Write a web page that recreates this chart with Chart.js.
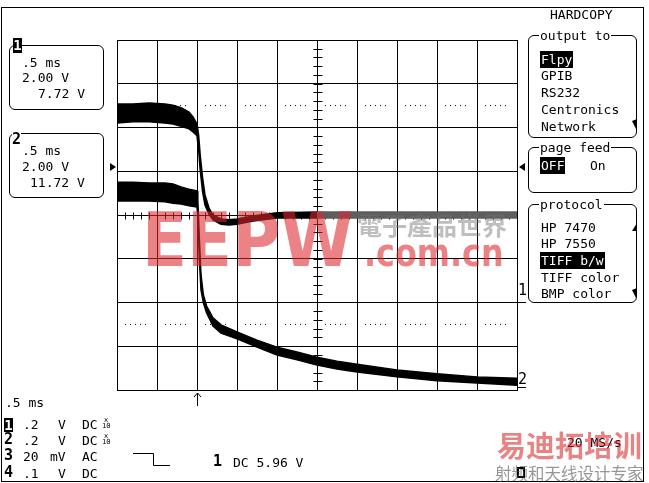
<!DOCTYPE html>
<html>
<head>
<meta charset="utf-8">
<script src="https://cdn.jsdelivr.net/npm/chart.js@4.4.1/dist/chart.umd.min.js"></script>
<style>
  body { margin: 0; background: #fff; }
  #scope { position: relative; width: 649px; height: 483px; overflow: hidden; background: #fff;
           font-family: "DejaVu Sans Mono", monospace; font-size: 13px; color: #000; }
  #scope canvas, #scope svg { position: absolute; left: 0; top: 0; }
  .t { position: absolute; line-height: 13px; white-space: pre; }
  .box { position: absolute; border: 1px solid #000; border-radius: 6px; box-sizing: border-box; }
  .lbl { background: #fff; padding: 0 1px; }
  .inv { background: #000; color: #fff; padding: 1px 1px; }
  .num { position: absolute; font-weight: bold; font-size: 15px; line-height: 15px; background: #fff; }
  .blk { position: absolute; background: #000; color: #fff; font-weight: bold; font-size: 14px;
         line-height: 15px; text-align: center; }
  .x10 { position: absolute; font-size: 7px; line-height: 6px; text-align: center; white-space: pre; }
  .wm { position: absolute; white-space: pre; pointer-events: none; }
</style>
</head>
<body>
<div id="scope">
  <canvas id="c" width="649" height="483"></canvas>

  <svg width="649" height="483">
    <rect x="1.5" y="7.5" width="642" height="474" fill="none" stroke="#000"/>
    <polyline points="133,453.5 153.5,453.5 153.5,465.5 170,465.5" fill="none" stroke="#000"/>
    <line x1="517" y1="302.5" x2="526" y2="302.5" stroke="#000"/>
    <line x1="517" y1="387.5" x2="526" y2="387.5" stroke="#000"/>
    <polygon points="632,121 637,119 636,129 634,125"/>
    <polygon points="637,223 637,231 632,231"/>
    <polygon points="632,290 637,288 636,298 634,294"/>
    <rect x="518" y="468" width="6" height="9" fill="none" stroke="#000" stroke-width="2"/>
  </svg>

  <!-- left channel boxes -->
  <div class="box" style="left:9px;top:45px;width:95px;height:65px"></div>
  <div class="blk" style="left:13px;top:38px;width:9px;height:15px">1</div>
  <div class="t" style="left:22px;top:56px">.5 ms</div>
  <div class="t" style="left:22px;top:71px">2.00 V</div>
  <div class="t" style="left:38px;top:87px">7.72 V</div>

  <div class="box" style="left:9px;top:133px;width:95px;height:65px"></div>
  <div class="num" style="left:12px;top:132px">2</div>
  <div class="t" style="left:22px;top:144px">.5 ms</div>
  <div class="t" style="left:22px;top:160px">2.00 V</div>
  <div class="t" style="left:30px;top:176px">11.72 V</div>

  <!-- right menu -->
  <div class="t" style="left:550px;top:8px">HARDCOPY</div>
  <div class="box" style="left:528px;top:35px;width:109px;height:103px"></div>
  <div class="t" style="left:539px;top:29px"><span class="lbl">output to</span></div>
  <div class="t" style="left:540px;top:53px"><span class="inv">Flpy</span></div>
  <div class="t" style="left:541px;top:69px">GPIB</div>
  <div class="t" style="left:541px;top:86px">RS232</div>
  <div class="t" style="left:541px;top:103px">Centronics</div>
  <div class="t" style="left:541px;top:120px">Network</div>

  <div class="box" style="left:528px;top:147px;width:109px;height:46px"></div>
  <div class="t" style="left:539px;top:141px"><span class="lbl">page feed</span></div>
  <div class="t" style="left:540px;top:159px"><span class="inv">OFF</span></div>
  <div class="t" style="left:590px;top:159px">On</div>

  <div class="box" style="left:528px;top:204px;width:109px;height:99px"></div>
  <div class="t" style="left:539px;top:198px"><span class="lbl">protocol</span></div>
  <div class="t" style="left:541px;top:221px">HP 7470</div>
  <div class="t" style="left:541px;top:237px">HP 7550</div>
  <div class="t" style="left:540px;top:254px"><span class="inv">TIFF b/w</span></div>
  <div class="t" style="left:541px;top:271px">TIFF color</div>
  <div class="t" style="left:541px;top:287px">BMP color</div>

  <!-- channel level markers -->
  <div class="t" style="left:518px;top:283px;font-size:15px;line-height:15px">1</div>
  <div class="t" style="left:518px;top:372px;font-size:15px;line-height:15px">2</div>

  <!-- bottom status -->
  <div class="t" style="left:5px;top:396px">.5 ms</div>
  <div class="blk" style="left:4px;top:418px;width:9px;height:14px;line-height:14px">1</div>
  <div class="t" style="left:23px;top:418px">.2</div>
  <div class="t" style="left:58px;top:418px">V</div>
  <div class="t" style="left:82px;top:418px">DC</div>
  <div class="x10" style="left:102px;top:417px">x
10</div>
  <div class="num" style="left:4px;top:432px">2</div>
  <div class="t" style="left:23px;top:434px">.2</div>
  <div class="t" style="left:58px;top:434px">V</div>
  <div class="t" style="left:82px;top:434px">DC</div>
  <div class="x10" style="left:102px;top:433px">x
10</div>
  <div class="num" style="left:4px;top:448px">3</div>
  <div class="t" style="left:23px;top:450px">20</div>
  <div class="t" style="left:50px;top:450px">mV</div>
  <div class="t" style="left:82px;top:450px">AC</div>
  <div class="num" style="left:4px;top:465px">4</div>
  <div class="t" style="left:23px;top:467px">.1</div>
  <div class="t" style="left:58px;top:467px">V</div>
  <div class="t" style="left:82px;top:467px">DC</div>

  <div class="num" style="left:213px;top:454px">1</div>
  <div class="t" style="left:233px;top:456px">DC 5.96 V</div>
  <div class="t" style="left:567px;top:436px">20 MS/s</div>

  <!-- watermarks -->
  <div class="wm" style="left:142px;top:203px;font:bold 75px/75px 'DejaVu Sans',sans-serif;color:rgba(220,40,45,0.58);transform:scaleX(0.88);transform-origin:0 0">EEPW</div>
  <div class="wm" style="left:357px;top:212px;font:bold 25px/25px 'Noto Sans CJK TC',sans-serif;color:rgba(110,110,110,0.45)">電子產品世界</div>
  <div class="wm" style="left:364px;top:235px;font:bold 37px/37px 'DejaVu Sans',sans-serif;color:rgba(220,40,45,0.58);transform:scaleX(0.86);transform-origin:0 0">.com.cn</div>
  <div class="wm" style="left:497px;top:430px;font:bold 29px/29px 'Noto Sans CJK SC',sans-serif;color:rgba(215,30,30,0.55)">易迪拓培训</div>
  <div class="wm" style="left:495px;top:465px;font:16.5px/17px 'Noto Sans CJK SC',sans-serif;color:rgba(80,80,80,0.6)">射频和天线设计专家</div>
</div>

<script>
// 0.5 ms/div horizontally, trigger at 0 ms; vertical in divisions
const timeMin = -1.0, timeMax = 4.0;
const divMin = -4, divMax = 4;
const trigTime = 0, trigLevel = 1.1;
const refLevels = [2.5, -2.5];

// channel 1 trace: upper / lower edge of the noisy band
const ch1Time = [-1.0, -0.8, -0.6, -0.4, -0.3, -0.2, -0.1, -0.05, 0, 0.02, 0.04, 0.07, 0.1, 0.15, 0.2, 0.3, 0.4, 0.5, 0.7, 1.0, 1.5, 2.0, 2.5, 3.0, 3.5, 4.0];
const ch1Hi = [2.54, 2.54, 2.56, 2.54, 2.51, 2.45, 2.35, 2.24, 2.08, 1.83, 1.37, 0.85, 0.46, 0.16, 0.00, -0.09, -0.11, -0.09, -0.02, 0.05, 0.07, 0.07, 0.07, 0.07, 0.07, 0.07];
const ch1Lo = [2.10, 2.13, 2.13, 2.10, 2.08, 2.03, 1.97, 1.90, 1.81, 1.49, 1.03, 0.53, 0.23, 0.02, -0.11, -0.21, -0.23, -0.21, -0.14, -0.07, -0.07, -0.07, -0.07, -0.07, -0.07, -0.07];

// channel 2 trace
const ch2Time = [-1.0, -0.8, -0.6, -0.4, -0.3, -0.2, -0.1, 0, 0.01, 0.03, 0.05, 0.08, 0.12, 0.2, 0.3, 0.5, 0.75, 1.0, 1.25, 1.5, 1.75, 2.0, 2.5, 3.0, 3.5, 4.0];
const ch2Hi = [0.75, 0.75, 0.73, 0.73, 0.71, 0.64, 0.59, 0.55, 0.34, -0.57, -1.37, -1.83, -2.08, -2.35, -2.51, -2.67, -2.86, -3.02, -3.13, -3.25, -3.34, -3.41, -3.54, -3.63, -3.70, -3.73];
const ch2Lo = [0.32, 0.32, 0.32, 0.30, 0.27, 0.25, 0.21, 0.18, 0.00, -1.03, -1.71, -2.01, -2.24, -2.54, -2.70, -2.83, -3.02, -3.20, -3.31, -3.43, -3.52, -3.59, -3.70, -3.79, -3.84, -3.89];

function pts(xs, ys) {
    return xs.map((t, i) => ({ x: t, y: ys[i] }));
}

// ch1 looks grey on the right half of the screen
const ch1Col = ctx => ctx.p0.parsed.x >= 1.5 ? '#5e5e5e' : '#000';

function band(xs, hi, lo, seg) {
    return [
        { data: pts(xs, hi), borderColor: '#000', borderWidth: 1.5, fill: false, segment: seg },
        { data: pts(xs, lo), borderColor: '#000', borderWidth: 1.5, fill: '-1', backgroundColor: '#000', segment: seg }
    ];
}

const refLine = lvl => ({
    data: [{ x: timeMin, y: lvl }, { x: timeMax, y: lvl }],
    borderColor: '#000', borderWidth: 1, fill: false,
    borderDash: [1, 4, 1, 4, 1, 4, 1, 4, 1, 19], borderDashOffset: 32
});

// minor ticks on the centre cross, trigger markers
const scopeMarks = {
    id: 'scopeMarks',
    beforeDatasetsDraw(chart) {
        const { ctx, scales: { x, y }, chartArea } = chart;
        const cx = Math.round(x.getPixelForValue((timeMin + timeMax) / 2)) + 0.5;
        const cy = Math.round(y.getPixelForValue(0)) + 0.5;
        ctx.save();
        ctx.strokeStyle = '#000';
        ctx.lineWidth = 1;
        ctx.beginPath();
        for (let v = divMin; v <= divMax + 1e-9; v += 0.2) {
            const py = Math.round(y.getPixelForValue(v)) + 0.5;
            ctx.moveTo(cx - 4, py); ctx.lineTo(cx + 5, py);
        }
        for (let t = timeMin; t <= timeMax + 1e-9; t += 0.1) {
            const px = Math.round(x.getPixelForValue(t)) + 0.5;
            ctx.moveTo(px, cy - 3); ctx.lineTo(px, cy + 4);
        }
        ctx.stroke();

        // trigger level triangles
        const ty = y.getPixelForValue(trigLevel);
        ctx.fillStyle = '#000';
        ctx.beginPath();
        ctx.moveTo(chartArea.left - 1, ty); ctx.lineTo(chartArea.left - 7, ty - 4); ctx.lineTo(chartArea.left - 7, ty + 4);
        ctx.closePath(); ctx.fill();
        ctx.beginPath();
        ctx.moveTo(chartArea.right + 2, ty); ctx.lineTo(chartArea.right + 8, ty - 4); ctx.lineTo(chartArea.right + 8, ty + 4);
        ctx.closePath(); ctx.fill();

        // trigger time arrow
        const tx = Math.round(x.getPixelForValue(trigTime)) + 0.5;
        const b = chartArea.bottom;
        ctx.beginPath();
        ctx.moveTo(tx, b + 3); ctx.lineTo(tx, b + 16);
        ctx.moveTo(tx - 3.5, b + 7); ctx.lineTo(tx, b + 3); ctx.lineTo(tx + 3.5, b + 7);
        ctx.stroke();
        ctx.restore();
    }
};

const gridOpts = { color: '#000', lineWidth: 1, drawTicks: false };

new Chart(document.getElementById('c'), {
    type: 'line',
    data: {
        datasets: [
            ...band(ch1Time, ch1Hi, ch1Lo, { borderColor: ch1Col, backgroundColor: ch1Col }),
            ...band(ch2Time, ch2Hi, ch2Lo),
            refLine(refLevels[0]),
            refLine(refLevels[1])
        ]
    },
    options: {
        responsive: false,
        animation: false,
        events: [],
        layout: { padding: { left: 117, top: 40, right: 132, bottom: 93 } },
        plugins: { legend: { display: false }, tooltip: { enabled: false } },
        elements: { point: { radius: 0 }, line: { tension: 0 } },
        scales: {
            x: {
                type: 'linear', min: timeMin, max: timeMax,
                ticks: { display: false, stepSize: 0.5 },
                grid: gridOpts,
                border: { display: true, color: '#000' }
            },
            y: {
                type: 'linear', min: divMin, max: divMax,
                ticks: { display: false, stepSize: 1 },
                grid: gridOpts,
                border: { display: true, color: '#000' }
            }
        }
    },
    plugins: [scopeMarks]
});
</script>
</body>
</html>
